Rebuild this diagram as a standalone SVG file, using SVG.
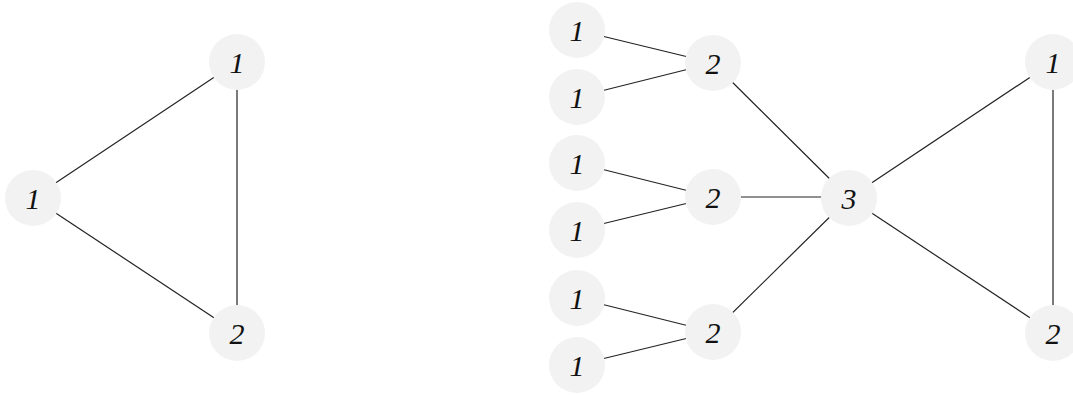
<svg xmlns="http://www.w3.org/2000/svg" width="1073" height="395" viewBox="0 0 1073 395">
<style>
.n circle{fill:#f2f2f2;stroke:none}
.n text{font-family:"Liberation Serif","DejaVu Serif",serif;font-style:italic;font-size:30px;fill:#111;text-anchor:middle;dominant-baseline:central}
#edges line{stroke:#222;stroke-width:1.2}
</style>
<rect width="1073" height="395" fill="#fff"/>
<g id="edges">
<line x1="33" y1="198" x2="237" y2="62"/>
<line x1="33" y1="198" x2="237" y2="333"/>
<line x1="237" y1="62" x2="237" y2="333"/>
<line x1="577" y1="30" x2="713" y2="63"/>
<line x1="577" y1="97" x2="713" y2="63"/>
<line x1="577" y1="163" x2="713" y2="197"/>
<line x1="577" y1="230" x2="713" y2="197"/>
<line x1="577" y1="298" x2="713" y2="332"/>
<line x1="577" y1="365" x2="713" y2="332"/>
<line x1="713" y1="63" x2="849" y2="198"/>
<line x1="713" y1="197" x2="849" y2="197"/>
<line x1="713" y1="332" x2="849" y2="198"/>
<line x1="849" y1="198" x2="1053" y2="62"/>
<line x1="849" y1="198" x2="1053" y2="333"/>
<line x1="1053" y1="62" x2="1053" y2="333"/>
</g>
<g id="nA" class="n"><circle cx="33" cy="198" r="28"/><text x="33" y="198">1</text></g>
<g id="nB" class="n"><circle cx="237" cy="62" r="28"/><text x="237" y="62">1</text></g>
<g id="nC" class="n"><circle cx="237" cy="333" r="28"/><text x="237" y="333">2</text></g>
<g id="r1" class="n"><circle cx="577" cy="30" r="28"/><text x="577" y="30">1</text></g>
<g id="r2" class="n"><circle cx="577" cy="97" r="28"/><text x="577" y="97">1</text></g>
<g id="r3" class="n"><circle cx="713" cy="63" r="28"/><text x="713" y="63">2</text></g>
<g id="r4" class="n"><circle cx="577" cy="163" r="28"/><text x="577" y="163">1</text></g>
<g id="r5" class="n"><circle cx="577" cy="230" r="28"/><text x="577" y="230">1</text></g>
<g id="r6" class="n"><circle cx="713" cy="197" r="28"/><text x="713" y="197">2</text></g>
<g id="r7" class="n"><circle cx="577" cy="298" r="28"/><text x="577" y="298">1</text></g>
<g id="r8" class="n"><circle cx="577" cy="365" r="28"/><text x="577" y="365">1</text></g>
<g id="r9" class="n"><circle cx="713" cy="332" r="28"/><text x="713" y="332">2</text></g>
<g id="r10" class="n"><circle cx="849" cy="198" r="28"/><text x="849" y="198">3</text></g>
<g id="r11" class="n"><circle cx="1053" cy="62" r="28"/><text x="1053" y="62">1</text></g>
<g id="r12" class="n"><circle cx="1053" cy="333" r="28"/><text x="1053" y="333">2</text></g>
</svg>
